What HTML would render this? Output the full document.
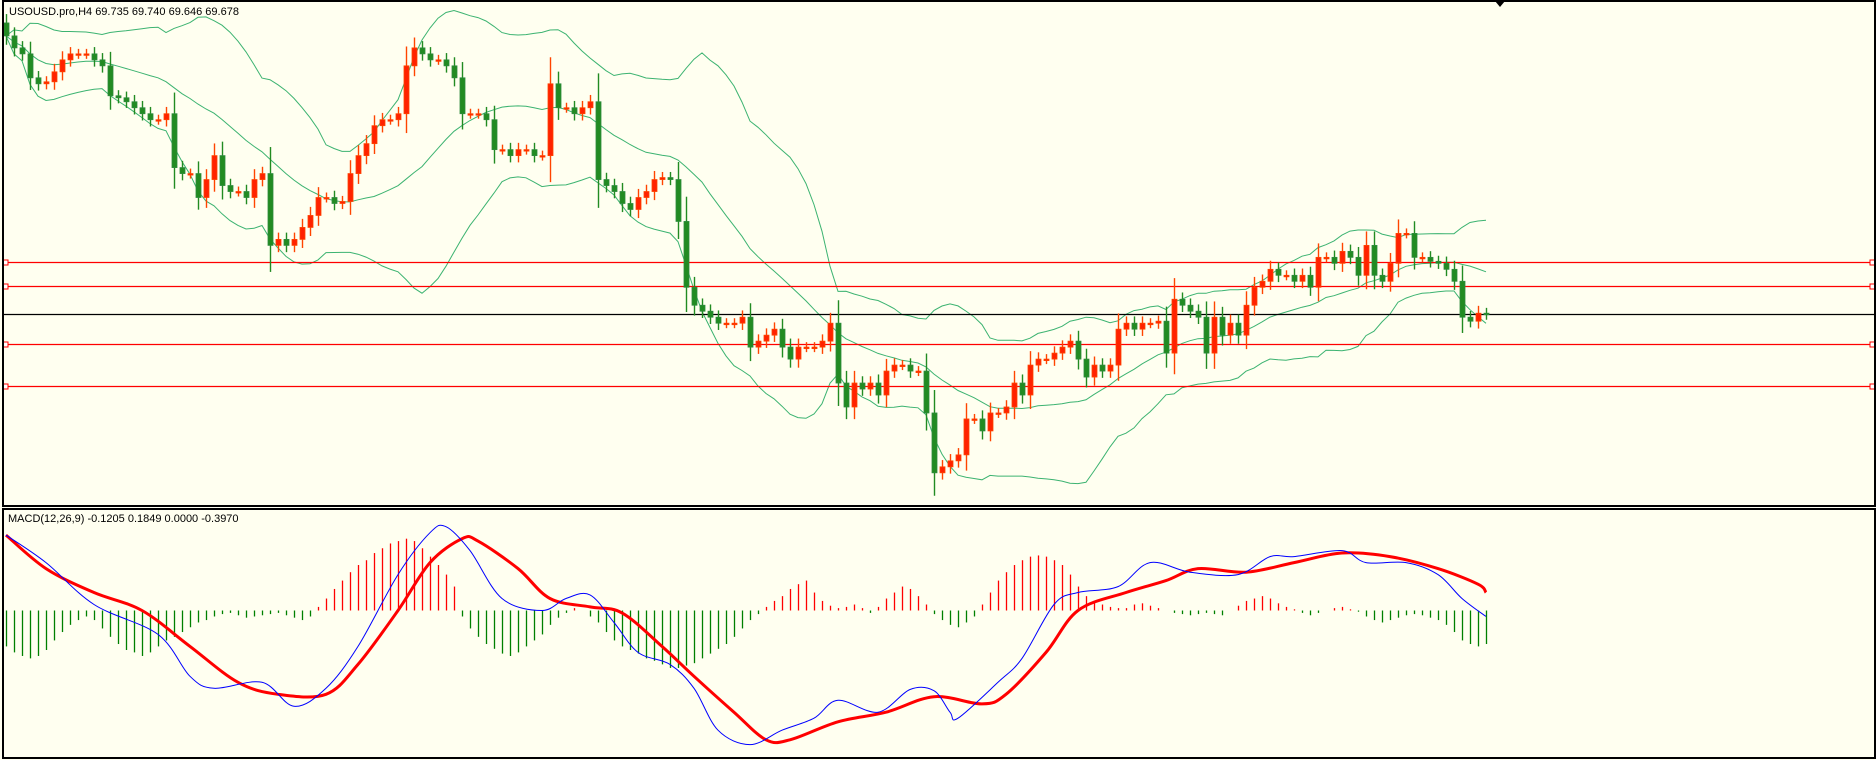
<!DOCTYPE html>
<html><head><meta charset="utf-8"><style>
html,body{margin:0;padding:0;background:#fffff0;}
svg{display:block;font-family:"Liberation Sans",sans-serif;}
</style></head><body>
<svg id="chart" width="1876" height="760" viewBox="0 0 1876 760">
<rect x="0" y="0" width="1876" height="760" fill="#fffff0"/>
<g id="bands"></g>
<g id="levels"></g>
<g id="candles"></g>
<g id="macd"></g>
<rect x="3" y="1" width="1872" height="505" fill="none" stroke="#000" stroke-width="2"/>
<rect x="3" y="509" width="1872" height="249" fill="none" stroke="#000" stroke-width="2"/>
<polygon points="1495,1 1505,1 1500,7" fill="#000"/>
<text x="9" y="15" font-size="11" fill="#000">USOUSD.pro,H4  69.735 69.740 69.646 69.678</text>
<text x="8" y="522" font-size="11" fill="#000">MACD(12,26,9) -0.1205 0.1849 0.0000 -0.3970</text>
</svg>
<script>
const closes=[72.47,72.35,72.29,72.05,71.99,72.01,72.11,72.23,72.29,72.29,72.29,72.23,72.17,71.87,71.85,71.81,71.75,71.69,71.63,71.63,71.69,71.15,71.09,71.09,70.85,71.03,71.27,70.97,70.91,70.91,70.85,71.03,71.09,70.37,70.43,70.37,70.43,70.55,70.67,70.85,70.85,70.79,70.81,71.09,71.27,71.39,71.57,71.63,71.63,71.69,72.17,72.35,72.29,72.23,72.23,72.17,72.05,71.69,71.69,71.69,71.63,71.33,71.33,71.27,71.33,71.33,71.27,71.27,71.99,71.75,71.75,71.69,71.75,71.81,71.03,70.97,70.91,70.79,70.73,70.85,70.91,71.03,71.05,71.03,70.61,69.95,69.77,69.71,69.65,69.59,69.59,69.59,69.65,69.35,69.41,69.47,69.53,69.35,69.23,69.35,69.35,69.35,69.41,69.59,68.99,68.75,68.99,68.93,68.99,68.87,69.11,69.17,69.17,69.11,69.11,68.69,68.09,68.15,68.21,68.27,68.63,68.63,68.51,68.69,68.69,68.75,68.99,68.87,69.17,69.23,69.23,69.29,69.35,69.41,69.23,69.05,69.17,69.11,69.17,69.53,69.59,69.53,69.59,69.59,69.61,69.29,69.83,69.77,69.71,69.65,69.29,69.65,69.47,69.59,69.47,69.77,69.95,70.01,70.13,70.07,70.07,70.01,70.07,69.95,70.25,70.25,70.19,70.31,70.25,70.07,70.37,70.07,70.01,70.19,70.49,70.49,70.25,70.25,70.21,70.19,70.13,70.01,69.65,69.61,69.69,69.678];
const firstOpen=72.60;
const levelPrices=[70.20,69.96,69.38,68.96];
const currentPrice=69.678;
const macdIdx=[0,5,11,19,23,26,32,36,40,44,49,53,55,58,62,67,70,73,76,79,83,86,89,93,97,101,104,109,113,116,118,119,124,127,131,134,139,143,148,154,158,161,167,170,175,179,182,185];
const macdVals=[0.63,0.40,0.05,-0.20,-0.55,-0.65,-0.60,-0.80,-0.65,-0.30,0.30,0.65,0.70,0.50,0.10,0.00,0.10,0.13,-0.10,-0.35,-0.45,-0.65,-1.00,-1.12,-1.00,-0.90,-0.75,-0.85,-0.66,-0.67,-0.85,-0.90,-0.60,-0.40,0.05,0.15,0.20,0.40,0.32,0.30,0.45,0.45,0.50,0.40,0.40,0.30,0.10,-0.05];
const signalIdx=[0,5,11,17,23,29,34,40,44,49,53,57,59,64,68,73,77,82,86,91,95,98,104,110,116,122,125,130,134,140,145,149,155,161,167,173,179,184,185];
const signalVals=[0.63,0.35,0.15,0.00,-0.30,-0.60,-0.70,-0.70,-0.45,0.00,0.40,0.60,0.58,0.35,0.10,0.03,-0.02,-0.30,-0.55,-0.85,-1.08,-1.08,-0.93,-0.85,-0.72,-0.78,-0.70,-0.35,0.00,0.15,0.25,0.35,0.32,0.40,0.48,0.45,0.35,0.22,0.15];
const histVals=[-30,-35,-38,-40,-38,-33,-25,-18,-12,-8,-5,-8,-15,-22,-28,-33,-35,-38,-35,-30,-25,-22,-18,-14,-10,-8,-5,-3,-2,-4,-6,-5,-4,-3,-2,-4,-6,-8,-5,3,10,18,25,32,38,42,48,52,56,58,60,58,52,45,38,30,20,-5,-15,-22,-28,-32,-36,-38,-35,-30,-25,-20,-12,-6,-2,2,0,-5,-10,-18,-25,-30,-33,-36,-40,-42,-45,-48,-48,-46,-44,-40,-36,-32,-28,-22,-15,-8,-3,3,8,12,18,22,25,15,8,4,2,3,5,2,-2,3,10,15,20,18,12,5,-3,-8,-12,-14,-10,-5,5,15,25,32,38,42,45,46,45,42,38,30,20,12,8,5,3,2,2,5,6,4,2,0,-2,-3,-4,-3,-2,-3,-4,0,4,8,10,12,10,6,3,1,-2,-4,-2,0,2,3,1,-1,-5,-8,-10,-8,-6,-4,-3,-4,-6,-8,-12,-18,-25,-28,-30,-28];

const NS='http://www.w3.org/2000/svg';
function xAt(i){return 6+8*i;}
function yP(p){return (72.83-p)*99.75;}
function yM(v){return 610.5-v*119.7;}
function mk(tag,attrs,parent){const e=document.createElementNS(NS,tag);for(const k in attrs)e.setAttribute(k,attrs[k]);parent.appendChild(e);return e;}
function smoothPath(pts){
  let d='M'+pts[0][0]+','+pts[0][1];
  for(let i=0;i<pts.length-1;i++){
    const p0=pts[Math.max(0,i-1)],p1=pts[i],p2=pts[i+1],p3=pts[Math.min(pts.length-1,i+2)];
    const c1x=p1[0]+(p2[0]-p0[0])/6,c1y=p1[1]+(p2[1]-p0[1])/6;
    const c2x=p2[0]-(p3[0]-p1[0])/6,c2y=p2[1]-(p3[1]-p1[1])/6;
    d+=' C'+c1x.toFixed(1)+','+c1y.toFixed(1)+' '+c2x.toFixed(1)+','+c2y.toFixed(1)+' '+p2[0].toFixed(1)+','+p2[1].toFixed(1);
  }
  return d;
}

const lv=document.getElementById('levels');
levelPrices.forEach(p=>{
  const y=Math.round(yP(p))+0.5;
  const l=mk('line',{x1:4,x2:1874,y1:y,y2:y,stroke:'#ff0000','stroke-width':1.3},lv);
  
  
  [4,1871].forEach(x=>{
    const s=mk('rect',{x:x-1,y:y-2.5,width:5,height:5,fill:'#fff',stroke:'#ff0000','stroke-width':1},lv);
    
    
  });
});
{
  const y=Math.round(yP(currentPrice))+0.5;
  const l=mk('line',{x1:4,x2:1874,y1:y,y2:y,stroke:'#000','stroke-width':1.3},lv);
  
  
}

const bg=document.getElementById('bands');
const mid=[],up=[],lo=[];
closes.forEach((c,i)=>{
  const s=closes.slice(Math.max(0,i-19),i+1);
  const m=s.reduce((a,b)=>a+b,0)/s.length;
  const sd=Math.sqrt(s.reduce((a,b)=>a+(b-m)*(b-m),0)/s.length);
  mid.push(m);up.push(m+2*sd);lo.push(m-2*sd);
});
[['bb-upper',up],['bb-middle',mid],['bb-lower',lo]].forEach(([n,arr])=>{
  const pl=mk('polyline',{points:arr.map((v,i)=>xAt(i)+','+yP(v).toFixed(1)).join(' '),fill:'none',stroke:'#3cb371','stroke-width':1},bg);
  
  
});

const cg=document.getElementById('candles');
closes.forEach((c,i)=>{
  const o=i===0?firstOpen:closes[i-1];
  const bull=c>=o;
  const col=bull?'#ff2200':'#228b22';
  const hi=Math.max(o,c)+0.05+0.3*Math.abs(c-o);
  const lw=Math.min(o,c)-0.05-0.3*Math.abs(c-o);
  const x=xAt(i);
  const g=mk('g',{},cg);
  
  
  mk('line',{x1:x+0.5,x2:x+0.5,y1:yP(hi),y2:yP(lw),stroke:bull?'#ff4400':'#228b22','stroke-width':1.4},g);
  const yt=yP(Math.max(o,c)),yb=yP(Math.min(o,c));
  mk('rect',{x:x-2,y:yt,width:5,height:Math.max(1.5,yb-yt),fill:col,stroke:bull?'#ff4400':'#2e8b3e','stroke-width':0.8},g);
});

const mg=document.getElementById('macd');
histVals.forEach((h,i)=>{
  const v=h/100;
  const b=mk('line',{x1:xAt(i)+0.5,x2:xAt(i)+0.5,y1:yM(0),y2:yM(v),stroke:v>=0?'#ff0000':'#008000','stroke-width':1.3},mg);
  
  
});
const sl=mk('path',{d:smoothPath(signalIdx.map((k,j)=>[xAt(k),yM(signalVals[j])])),fill:'none',stroke:'#ff0000','stroke-width':3,'stroke-linejoin':'round'},mg);


const ml=mk('path',{d:smoothPath(macdIdx.map((k,j)=>[xAt(k),yM(macdVals[j])])),fill:'none',stroke:'#0000ff','stroke-width':1},mg);


</script>
</body></html>
